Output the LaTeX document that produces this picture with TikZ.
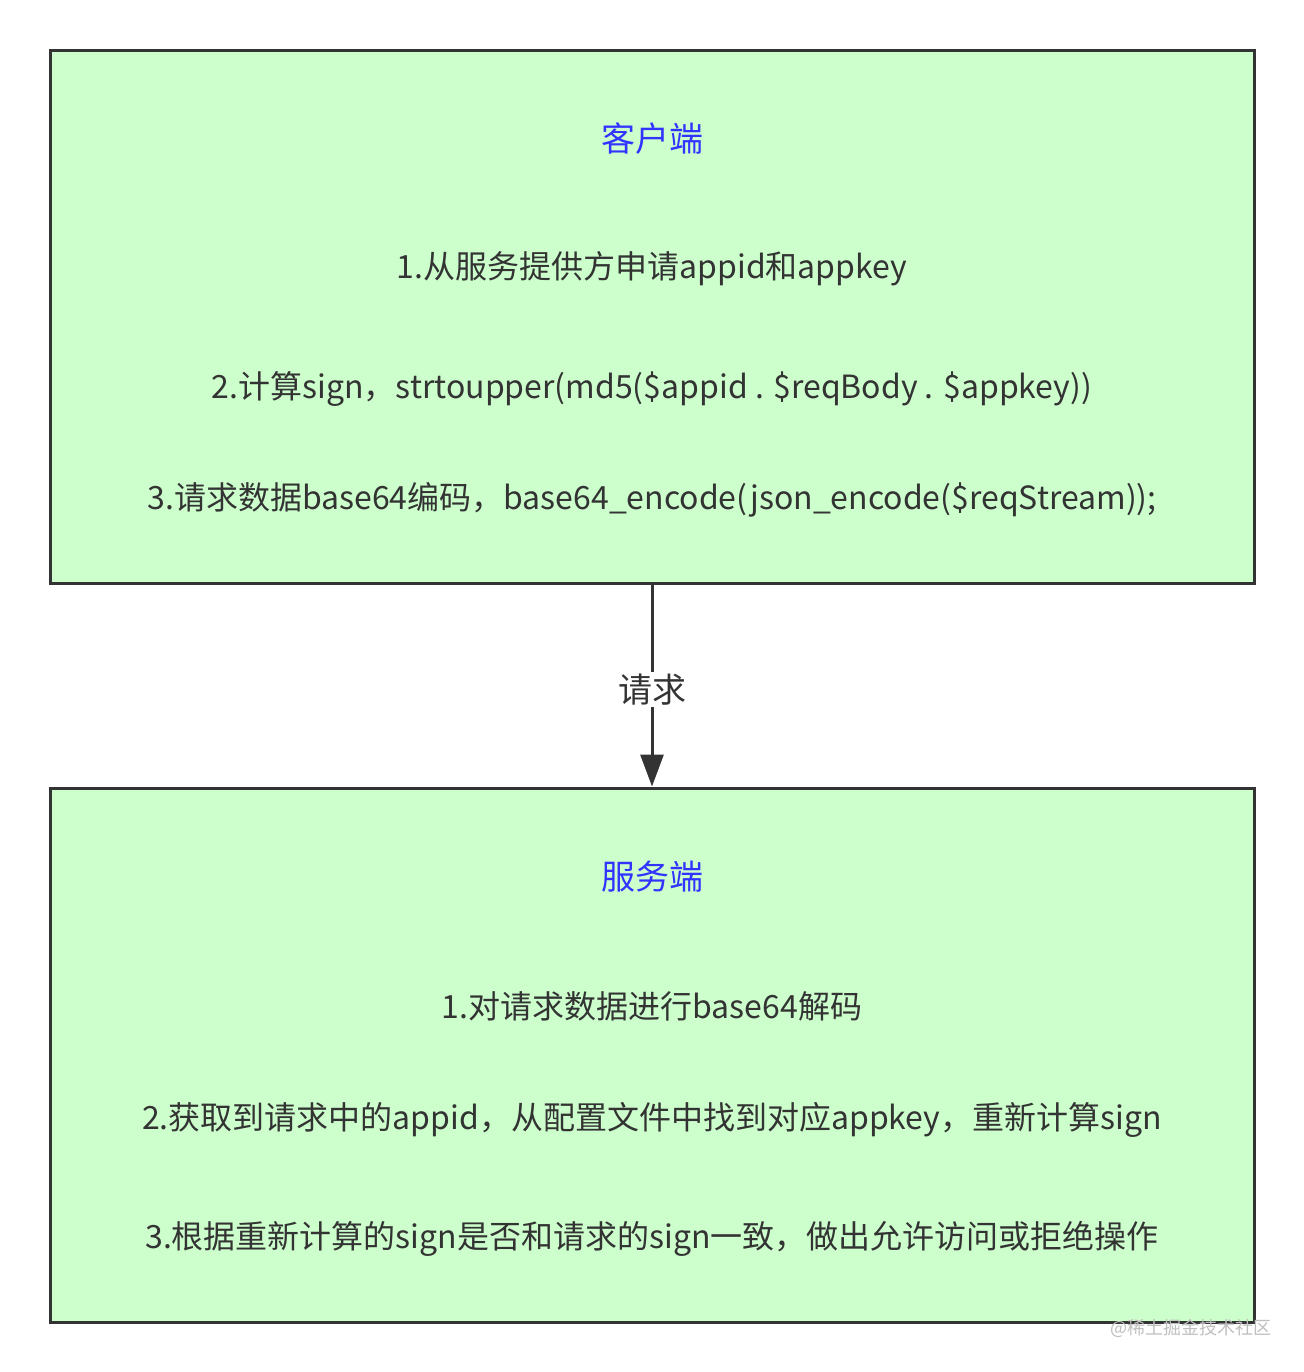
\documentclass[tikz,border=0pt]{standalone}
\usepackage{fontspec}
\setmainfont{Noto Sans CJK SC}
\usetikzlibrary{arrows.meta}
\definecolor{boxfill}{HTML}{CCFFCC}
\definecolor{ink}{HTML}{333333}
\definecolor{titleblue}{HTML}{3333FF}
\tikzset{
  panel/.style={draw=ink, line width=1.5pt, fill=boxfill},
  title/.style={text=titleblue, font=\fontsize{17}{20}\selectfont, anchor=center},
  body/.style={text=ink, font=\fontsize{16}{19}\selectfont, anchor=center},
  conn/.style={draw=ink, line width=1.5pt, -{Triangle[length=16pt,width=11.5pt]}},
}
\begin{document}
\begin{tikzpicture}[x=0.5pt,y=-0.5pt]
\useasboundingbox (0,0) rectangle (1304,1372);
\fill[white] (0,0) rectangle (1304,1372);
\node[panel, minimum width=602pt, minimum height=266.5pt, inner sep=0pt] (client) at (652,316.5) {};
\node[panel, minimum width=602pt, minimum height=267pt, inner sep=0pt] (server) at (652,1055) {};
\node[title] (ct) at (652,139) {客户端};
\node[body] (c1) at (652,269) {1.从服务提供方申请appid和appkey};
\node[body] (c2) at (652,389) {2.计算sign，strtoupper(md5(\$appid . \$reqBody . \$appkey))};
\node[body] (c3) at (652,500) {3.请求数据base64编码，base64\_encode(json\_encode(\$reqStream));};
\node[title] (st) at (652,877) {服务端};
\node[body] (s1) at (652,1006) {1.对请求数据进行base64解码};
\node[body] (s2) at (652,1120) {2.获取到请求中的appid，从配置文件中找到对应appkey，重新计算sign};
\node[body] (s3) at (652,1239) {3.根据重新计算的sign是否和请求的sign一致，做出允许访问或拒绝操作};
\draw[conn] (client.south) -- node[fill=white, text=ink, font=\fontsize{17}{20}\selectfont, inner sep=1pt, pos=0.52] (req) {请求} (server.north);
\node[text=black!25, font=\fontsize{9}{11}\selectfont, anchor=east, inner sep=0pt] (wm) at (1272,1328) {@稀土掘金技术社区};
\end{tikzpicture}
\end{document}
